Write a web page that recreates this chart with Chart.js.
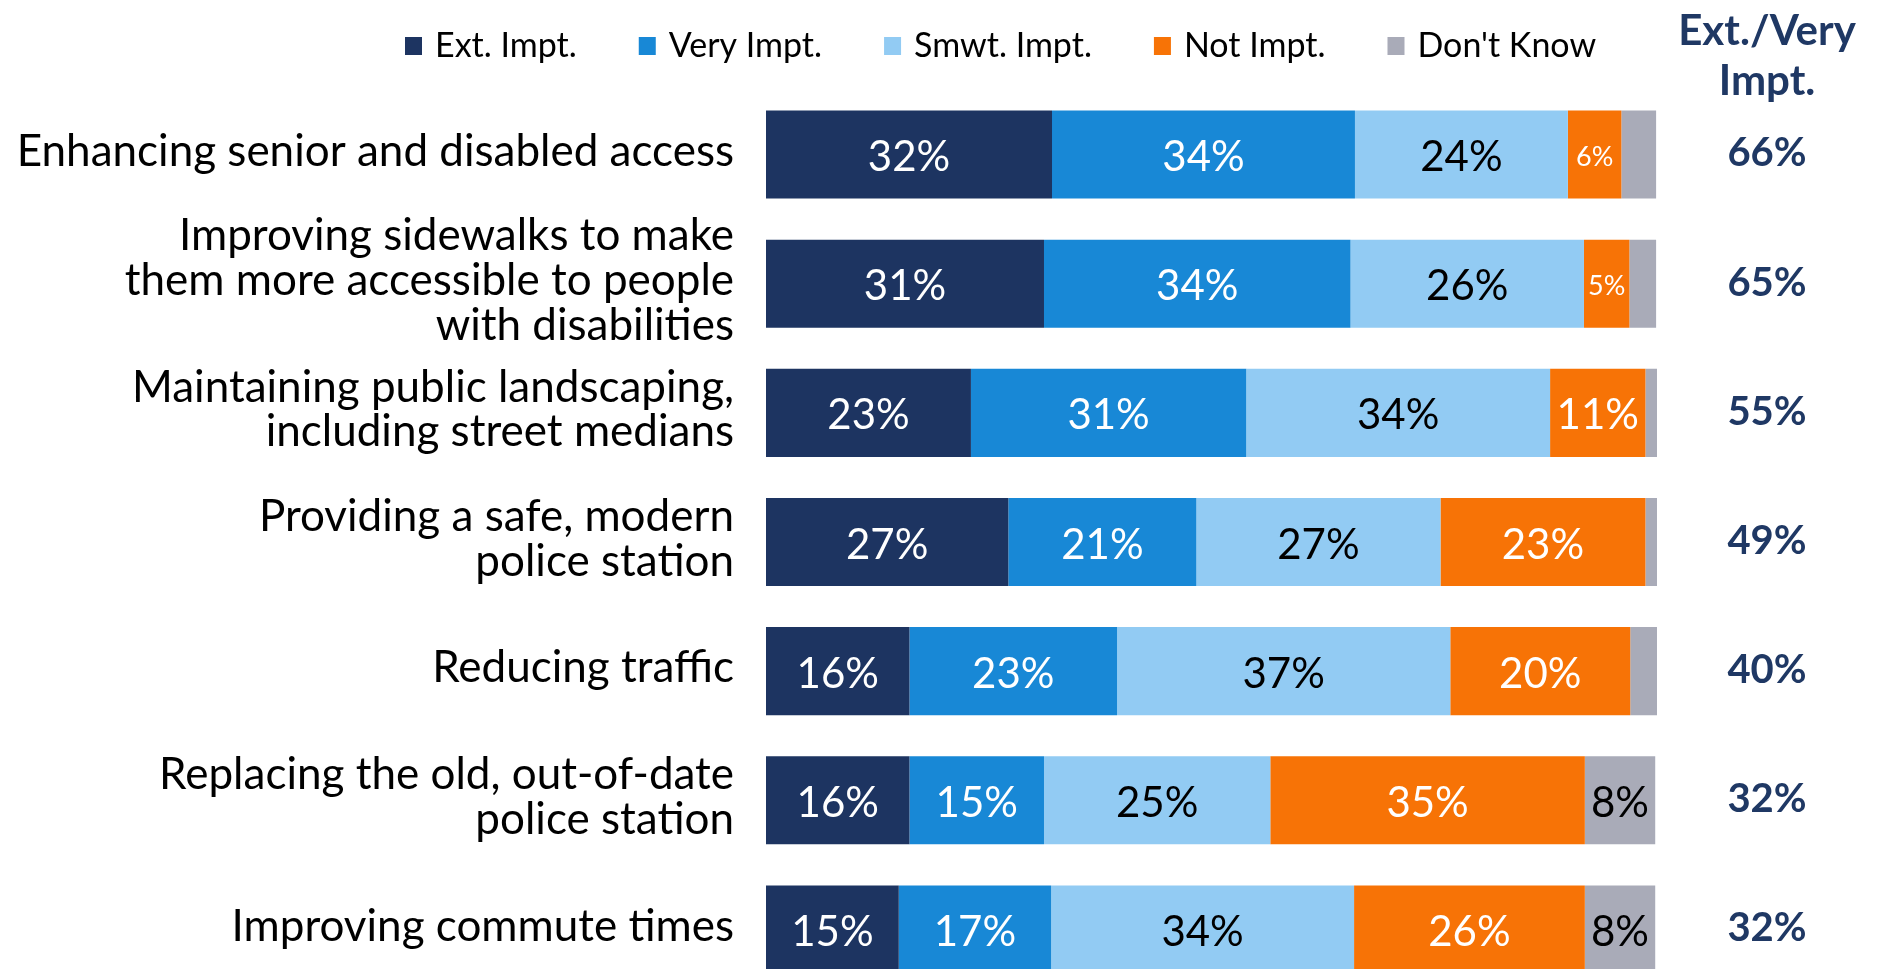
<!DOCTYPE html>
<html><head><meta charset="utf-8">
<script src="https://cdn.jsdelivr.net/npm/chart.js@4.4.0/dist/chart.umd.min.js"></script>
<style>
html,body{margin:0;padding:0;background:#fff;overflow:hidden}
#wrap{width:1879px;height:969px;overflow:hidden;position:relative;background:#fff}
canvas{display:block}
</style></head><body>
<div id="wrap"><canvas id="c" width="1879" height="994"></canvas></div>
<script>
// ---- data ----
const categories = [
  'Enhancing senior and disabled access',
  ['Improving sidewalks to make', 'them more accessible to people', 'with disabilities'],
  ['Maintaining public landscaping,', 'including street medians'],
  ['Providing a safe, modern', 'police station'],
  'Reducing traffic',
  ['Replacing the old, out-of-date', 'police station'],
  'Improving commute times'
];
const seriesNames = ['Ext. Impt.', 'Very Impt.', 'Smwt. Impt.', 'Not Impt.', "Don't Know"];
const extImpt  = [32.1, 31.2, 23.0, 27.2, 16.1, 16.1, 14.9];
const veryImpt = [34.0, 34.4, 30.9, 21.1, 23.3, 15.1, 17.1];
const smwtImpt = [23.9, 26.2, 34.1, 27.4, 37.4, 25.4, 34.0];
const notImpt  = [6.0, 5.1, 10.7, 23.0, 20.2, 35.3, 25.9];
const dontKnow = [3.9, 3.0, 1.3, 1.3, 3.0, 7.9, 7.9];
const extVeryTotal = [66, 65, 55, 49, 40, 32, 32];
const totalHeader = ['Ext./Very', 'Impt.'];

// ---- styles ----
const FONT = 'Lato, "Open Sans", sans-serif';
const colors = ['#1D3461', '#1888D6', '#92CBF3', '#F77306', '#A9ABB8'];
const labelColors = ['#FFFFFF', '#FFFFFF', '#000000', '#FFFFFF', '#000000'];
const NAVY = '#1F3864';

const seriesValues = [extImpt, veryImpt, smwtImpt, notImpt, dontKnow];

const barLabels = {
  id: 'barLabels',
  afterDatasetsDraw(chart) {
    const ctx = chart.ctx;
    ctx.save();
    ctx.textAlign = 'center';
    ctx.textBaseline = 'middle';
    chart.data.datasets.forEach((ds, i) => {
      const meta = chart.getDatasetMeta(i);
      meta.data.forEach((bar, j) => {
        const v = ds.data[j];
        if (v < 4.5) return;
        const p = bar.getProps(['x', 'base', 'y'], true);
        const cx = (p.x + p.base) / 2;
        const size = v < 7 ? 27 : 42;
        ctx.font = size + 'px ' + FONT;
        ctx.fillStyle = labelColors[i];
        ctx.fillText(Math.round(v) + '%', cx, p.y + 3);
      });
    });
    ctx.restore();
  }
};

const sideColumn = {
  id: 'sideColumn',
  afterDraw(chart) {
    const ctx = chart.ctx;
    const yScale = chart.scales.y;
    const cx = 1767;
    ctx.save();
    ctx.textAlign = 'center';
    ctx.textBaseline = 'middle';
    ctx.fillStyle = NAVY;
    ctx.font = 'bold 42px ' + FONT;
    ctx.fillText(totalHeader[0], cx, 31);
    ctx.fillText(totalHeader[1], cx, 81);
    ctx.font = 'bold 40px ' + FONT;
    extVeryTotal.forEach((v, j) => {
      ctx.fillText(v + '%', cx, yScale.getPixelForValue(j) - 1);
    });
    ctx.restore();
  }
};

const topLegend = {
  id: 'topLegend',
  afterDraw(chart) {
    const ctx = chart.ctx;
    ctx.save();
    ctx.font = '34px ' + FONT;
    ctx.textBaseline = 'middle';
    ctx.textAlign = 'left';
    let x = 405;
    const y = 46;
    chart.data.datasets.forEach((ds) => {
      ctx.fillStyle = ds.backgroundColor;
      ctx.fillRect(x, y - 9, 17, 18);
      x += 30;
      ctx.fillStyle = '#000';
      ctx.fillText(ds.label, x, y);
      x += ctx.measureText(ds.label).width + 62;
    });
    ctx.restore();
  }
};

new Chart(document.getElementById('c'), {
  type: 'bar',
  data: {
    labels: categories,
    datasets: seriesNames.map((name, i) => ({
      label: name,
      data: seriesValues[i],
      backgroundColor: colors[i],
      borderWidth: 0,
      barPercentage: 0.682,
      categoryPercentage: 1.0
    }))
  },
  options: {
    indexAxis: 'y',
    responsive: false,
    animation: false,
    layout: { padding: { top: 90, right: 222, left: 0, bottom: 0 } },
    plugins: { legend: { display: false }, tooltip: { enabled: false } },
    scales: {
      x: { stacked: true, min: 0, max: 100, display: false },
      y: {
        stacked: true,
        grid: { display: false, drawTicks: false },
        border: { display: false },
        ticks: {
          autoSkip: false,
          color: '#000',
          padding: 32,
          labelOffset: -3,
          font: { family: FONT, size: 44, lineHeight: 1.02 }
        },
        afterFit(scale) {
          scale.width = 766;
          scale.paddingTop = 0;
          scale.paddingBottom = 0;
        }
      }
    }
  },
  plugins: [barLabels, sideColumn, topLegend]
});
</script>
</body></html>
